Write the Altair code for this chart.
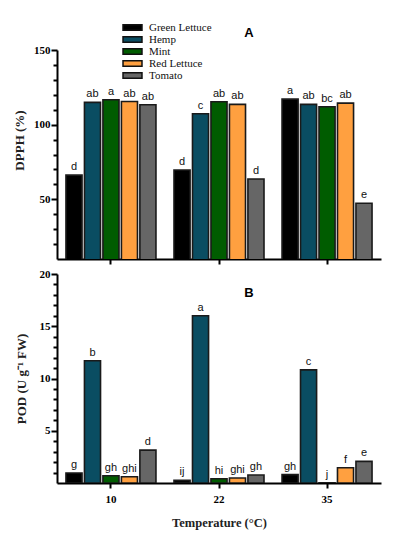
import altair as alt
import pandas as pd

temps = ["10", "22", "35"]
species = ["Green Lettuce", "Hemp", "Mint", "Red Lettuce", "Tomato"]
colors = ["#000000", "#0a4d62", "#005c00", "#ffa040", "#666666"]

# DPPH (%) per species, temps 10, 22, 35
dpph = {
    "Green Lettuce": [66.2, 69.6, 117.1],
    "Hemp": [114.9, 107.3, 113.6],
    "Mint": [116.7, 115.3, 112.0],
    "Red Lettuce": [115.5, 113.6, 114.4],
    "Tomato": [113.3, 63.6, 47.3],
}
dpph_letters = {
    "Green Lettuce": ["d", "d", "a"],
    "Hemp": ["ab", "c", "ab"],
    "Mint": ["a", "ab", "bc"],
    "Red Lettuce": ["ab", "ab", "ab"],
    "Tomato": ["ab", "d", "e"],
}
# POD (U g-1 FW)
pod = {
    "Green Lettuce": [0.96, 0.25, 0.8],
    "Hemp": [11.7, 16.0, 10.83],
    "Mint": [0.7, 0.41, 0.02],
    "Red Lettuce": [0.6, 0.48, 1.46],
    "Tomato": [3.15, 0.76, 2.07],
}
pod_letters = {
    "Green Lettuce": ["g", "ij", "gh"],
    "Hemp": ["b", "a", "c"],
    "Mint": ["gh", "hi", "j"],
    "Red Lettuce": ["ghi", "ghi", "f"],
    "Tomato": ["d", "gh", "e"],
}
dpph_ticks = list(range(20, 151, 10))
pod_ticks = list(range(1, 21))


def build(values, letters):
    rows = []
    for s in species:
        for i, t in enumerate(temps):
            rows.append({"temp": t, "species": s, "value": values[s][i], "letter": letters[s][i]})
    return pd.DataFrame(rows)


dfA = build(dpph, dpph_letters)
dfB = build(pod, pod_letters)

SERIF = "Liberation Serif"
SANS = "Liberation Sans"
W, H = 324, 209


def panel(df, domain, ticks, major_mod, ytitle, title_pos, tag, show_x_labels, legend):
    xenc = alt.X(
        "temp:N",
        sort=temps,
        scale=alt.Scale(paddingInner=0.167, paddingOuter=0.083),
        axis=alt.Axis(
            title="Temperature (°C)" if show_x_labels else None,
            labels=show_x_labels,
            labelFont=SERIF, labelFontWeight="bold", labelFontSize=11, labelColor="#000",
            labelAngle=0, labelPadding=5,
            titleFont=SERIF, titleFontWeight="bold", titleFontSize=12.5, titleColor="#222",
            titlePadding=12,
            domainColor="#000", domainWidth=2, tickColor="#000", tickWidth=2, tickSize=5,
        ),
    )
    yenc = alt.Y(
        "value:Q",
        scale=alt.Scale(domain=domain, nice=False, zero=False),
        axis=alt.Axis(
            title=ytitle, values=ticks, tickCount=len(ticks) + 5, labelOverlap=False,
            labelExpr=f"datum.value % {major_mod} === 0 ? datum.label : ''",
            labelFont=SERIF, labelFontWeight="bold", labelFontSize=11, labelColor="#000",
            labelPadding=1,
            titleFont=SERIF, titleFontWeight="bold", titleFontSize=13, titleColor="#222",
            titleX=title_pos[0], titleY=title_pos[1],
            domainColor="#000", domainWidth=2, tickColor="#000", tickWidth=2,
            tickSize={"condition": {"test": f"datum.value % {major_mod} === 0", "value": 6}, "value": 4},
            grid=False,
        ),
    )
    colenc = alt.Color(
        "species:N",
        sort=species,
        scale=alt.Scale(domain=species, range=colors),
        legend=alt.Legend(
            title=None, orient="none", legendX=70, legendY=-28,
            symbolType="M-2,-0.6L2,-0.6L2,0.6L-2,0.6Z", symbolSize=90,
            symbolStrokeColor="#111", symbolStrokeWidth=1.5, symbolOpacity=1,
            labelFont=SERIF, labelFontSize=11, labelColor="#111", labelOffset=11,
            rowPadding=-2, padding=0,
        ) if legend else None,
    )
    base = alt.Chart(df)
    bars = base.mark_bar(stroke="#1a1a1a", strokeWidth=1.6, clip=True).encode(
        x=xenc,
        xOffset=alt.XOffset("species:N", sort=species, scale=alt.Scale(paddingInner=0.13, paddingOuter=0)),
        y=yenc,
        color=colenc,
    )
    labels = base.mark_text(font=SANS, fontSize=11, baseline="bottom", dy=-3, color="#111").encode(
        x=alt.X("temp:N", sort=temps),
        xOffset=alt.XOffset("species:N", sort=species),
        y=alt.Y("value:Q"),
        text="letter:N",
    )
    tagdf = pd.DataFrame({"t": [tag["text"]]})
    tagmark = alt.Chart(tagdf).mark_text(
        font=SANS, fontSize=13, fontWeight="bold", color="#000", baseline="middle"
    ).encode(text="t:N", x=alt.value(tag["x"]), y=alt.value(tag["y"]))
    return alt.layer(bars, labels, tagmark).properties(width=W, height=H)


pA = panel(dfA, [10, 150], dpph_ticks, 50, "DPPH (%)", (-31, 90),
           {"text": "A", "x": 192, "y": -17}, False, True)
pB = panel(dfB, [0, 20], pod_ticks, 5, "POD (U g⁻¹ FW)", (-29, 104.5),
           {"text": "B", "x": 192, "y": 19}, True, False)

chart = alt.vconcat(pA, pB, spacing=3).resolve_scale(color="independent").resolve_legend(
    color="independent"
).properties(padding={"top": 14, "left": 5, "right": 5, "bottom": 5}).configure_view(stroke=None)

chart.save("out.html", embed_options={"renderer": "svg", "actions": False})
